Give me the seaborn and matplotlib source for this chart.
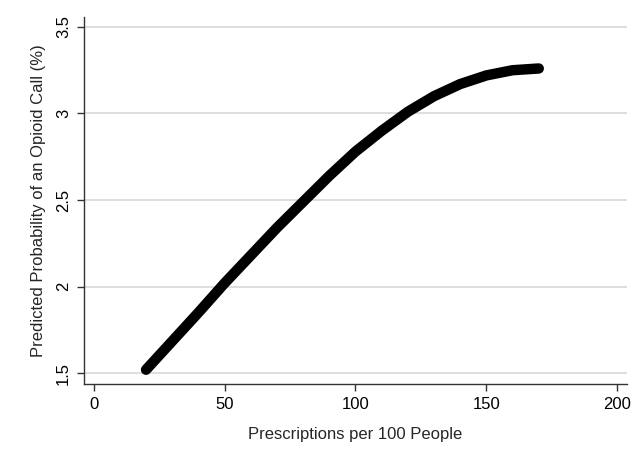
import numpy as np
import pandas as pd
import matplotlib
matplotlib.use("Agg")
import matplotlib.pyplot as plt
import seaborn as sns

# values
rx = [20, 30, 40, 50, 60, 70, 80, 90, 100, 110, 120, 130, 140, 150, 160, 170]
prob = [1.52, 1.685, 1.85, 2.02, 2.18, 2.34, 2.49, 2.64, 2.78, 2.90, 3.01,
        3.10, 3.17, 3.22, 3.25, 3.26]
xticks = [0, 50, 100, 150, 200]
yticks = [1.5, 2, 2.5, 3, 3.5]
ylabels = ["1.5", "2", "2.5", "3", "3.5"]

sns.set_style("white")
plt.rcParams['font.family'] = ['Liberation Sans', 'DejaVu Sans']

df = pd.DataFrame({"rx": rx, "prob": prob})

fig = plt.figure(figsize=(6.44, 4.69), dpi=100)
ax = fig.add_axes([0.130, 0.181, 0.844, 0.783])

ax.set_yticks(yticks)
ax.set_yticklabels(ylabels, rotation=90, va="center", fontsize=12)
ax.set_xticks(xticks)
ax.set_xticklabels([str(t) for t in xticks], fontsize=12)
ax.yaxis.grid(True, color="#d4d4d4", linewidth=1.1)
ax.set_axisbelow(True)

sns.lineplot(data=df, x="rx", y="prob", color="black", linewidth=7.5,
             solid_capstyle="round", solid_joinstyle="round", ax=ax)

ax.set_xlim(-3.8, 203.8)
ax.set_ylim(1.437, 3.558)
ax.set_xlabel("Prescriptions per 100 People", fontsize=12, labelpad=11)
ax.set_ylabel("Predicted Probability of an Opioid Call (%)", fontsize=12, labelpad=7)

for s in ["top", "right"]:
    ax.spines[s].set_visible(False)
for s in ["left", "bottom"]:
    ax.spines[s].set_color("#333333")
    ax.spines[s].set_linewidth(1.0)
ax.tick_params(axis="both", direction="out", length=5, width=1.0,
               color="#333333", labelcolor="black", bottom=True, left=True, pad=4)

fig.savefig("out.png", dpi=100)
